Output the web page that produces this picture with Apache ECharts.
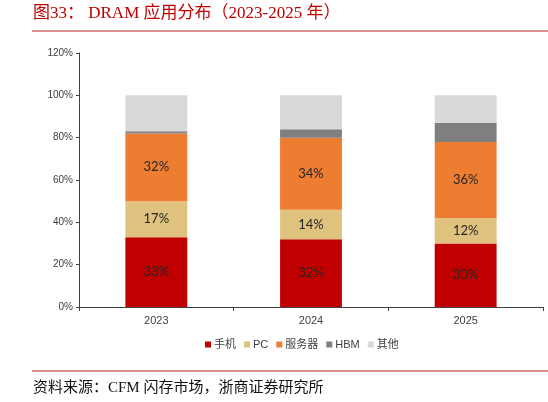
<!DOCTYPE html>
<html>
<head>
<meta charset="utf-8">
<script src="https://cdn.jsdelivr.net/npm/echarts@6/dist/echarts.min.js"></script>
<style>
html,body{margin:0;padding:0;background:#fff;}
#c{width:548px;height:402px;}
</style>
</head>
<body>
<div id="c"></div>
<script>
var categories = ['2023', '2024', '2025'];
var phone = [33, 32, 30];
var pc = [17, 14, 12];
var server = [32, 34, 36];
var hbm = [1, 4, 9];
var other = [17, 16, 13];
var yTicks = [0, 20, 40, 60, 80, 100, 120];

var chart = echarts.init(document.getElementById('c'));
var labelFont = {show: true, position: 'inside', formatter: '{c}%', fontFamily: 'Lato, "Noto Sans", sans-serif', fontSize: 13, color: '#262626'};
function mk(name, data, color, withLabel) {
  return {
    name: name, type: 'bar', stack: 'total', data: data, barWidth: '40%',
    itemStyle: {color: color},
    label: withLabel ? labelFont : {show: false},
    emphasis: {disabled: true}
  };
}
chart.setOption({
  animation: false,
  grid: {left: 79, right: 5, top: 53, bottom: 95},
  legend: {
    bottom: 47, left: 200,
    itemWidth: 6, itemHeight: 6, itemGap: 8,
    icon: 'rect',
    textStyle: {fontFamily: '"Liberation Sans", "Noto Sans CJK SC", sans-serif', fontSize: 11, color: '#404040', padding: [0, 0, 0, -2]},
    data: ['手机', 'PC', '服务器', 'HBM', '其他']
  },
  xAxis: {
    type: 'category', data: categories,
    axisLine: {lineStyle: {color: '#404040', width: 1}},
    axisTick: {show: true, alignWithLabel: false, length: 4, lineStyle: {color: '#404040'}},
    axisLabel: {fontFamily: '"Liberation Sans", Arial, sans-serif', fontSize: 11, color: '#404040', margin: 8}
  },
  yAxis: {
    type: 'value', min: yTicks[0], max: yTicks[yTicks.length - 1], interval: 20,
    splitLine: {show: false},
    axisLine: {show: true, lineStyle: {color: '#404040', width: 1}},
    axisTick: {show: true, length: 3, lineStyle: {color: '#404040'}},
    axisLabel: {formatter: '{value}%', fontFamily: '"Liberation Sans", Arial, sans-serif', fontSize: 10, color: '#404040', margin: 6}
  },
  series: [
    mk('手机', phone, '#C00000', true),
    mk('PC', pc, '#DFC27D', true),
    mk('服务器', server, '#ED7D31', true),
    mk('HBM', hbm, '#7F7F7F', false),
    mk('其他', other, '#D9D9D9', false)
  ],
  graphic: [
    {type: 'text', left: 33, top: 5, style: {text: '图33： DRAM 应用分布（2023-2025 年）', fill: '#C00000', font: '17px "Liberation Serif", "Noto Sans CJK SC", serif'}},
    {type: 'line', shape: {x1: 32, y1: 31, x2: 548, y2: 31}, style: {stroke: '#D46A6A', lineWidth: 1.5}},
    {type: 'line', shape: {x1: 32, y1: 371, x2: 548, y2: 371}, style: {stroke: '#D46A6A', lineWidth: 1.5}},
    {type: 'text', left: 33, top: 381, style: {text: '资料来源：CFM 闪存市场，浙商证券研究所', fill: '#111', font: '15px "Liberation Serif", "Noto Sans CJK SC", serif'}}
  ]
});
</script>
</body>
</html>
